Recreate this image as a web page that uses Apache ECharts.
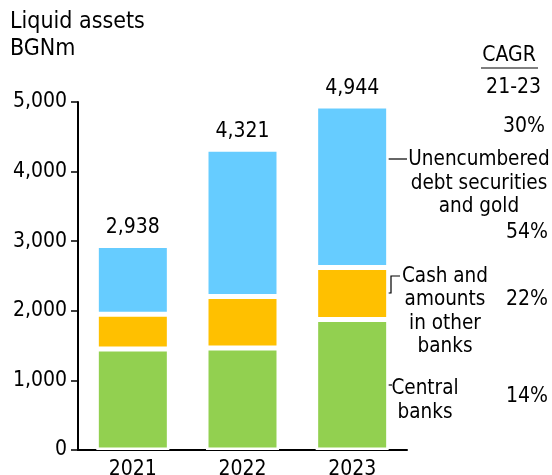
<!DOCTYPE html>
<html><head><meta charset="utf-8">
<script src="https://cdn.jsdelivr.net/npm/echarts@6/dist/echarts.min.js"></script>
<style>html,body{margin:0;padding:0;background:#fff}#c{width:552px;height:475px}</style>
</head><body><div id="c"></div>
<script>
var years = ['2021', '2022', '2023'];
var centralBanks = [1450, 1466, 1875];
var cashAmounts = [501, 739, 746];
var unencumbered = [987, 2116, 2323];
var seriesNames = ['Central banks', 'Cash and amounts in other banks', 'Unencumbered debt securities and gold'];
var cagrLabels = ['30%', '54%', '22%', '14%'];
var yTicks = [0, 1000, 2000, 3000, 4000, 5000];

var totals = years.map(function (_, i) { return centralBanks[i] + cashAmounts[i] + unencumbered[i]; });
var FONT = '"DejaVu Sans Condensed", "DejaVu Sans", sans-serif';
var FS = 21;
function fmt(v) { return v.toLocaleString('en-US'); }

var chart = echarts.init(document.getElementById('c'));
var barStyle = function (color) { return { color: color, borderColor: '#fff', borderWidth: 2.5 }; };
function txt(x, y, s, align, size, extra) {
  var st = { text: s, font: (size || FS) + 'px ' + FONT, fill: '#000', textAlign: align, textVerticalAlign: 'middle' };
  if (extra) { for (var k in extra) st[k] = extra[k]; }
  return { type: 'text', x: x, y: y, style: st };
}
chart.setOption({
  animation: false,
  textStyle: { fontFamily: FONT },
  title: { text: 'Liquid assets\nBGNm', left: 10, top: 9, padding: 0,
    textStyle: { fontFamily: FONT, fontSize: 23, fontWeight: 'normal', color: '#000', lineHeight: 27 } },
  grid: { left: 78, right: 145, top: 102, bottom: 25, containLabel: false, outerBoundsMode: 'none' },
  xAxis: { type: 'category', data: years,
    axisLine: { lineStyle: { color: '#000', width: 2 } },
    axisTick: { show: false },
    axisLabel: { color: '#000', fontSize: FS, margin: 9, fontFamily: FONT } },
  yAxis: { type: 'value', min: yTicks[0], max: yTicks[yTicks.length - 1], interval: 1000,
    splitLine: { show: false },
    axisLine: { show: true, lineStyle: { color: '#000', width: 2 } },
    axisTick: { show: true, inside: false, length: 7, lineStyle: { color: '#000', width: 1.5 } },
    axisLabel: { color: '#000', fontSize: FS, margin: 11, fontFamily: FONT, formatter: function (v) { return fmt(v); } } },
  series: [
    { name: seriesNames[0], type: 'bar', stack: 't', barWidth: 73, data: centralBanks, itemStyle: barStyle('#92D050') },
    { name: seriesNames[1], type: 'bar', stack: 't', data: cashAmounts, itemStyle: barStyle('#FFC000') },
    { name: seriesNames[2], type: 'bar', stack: 't', data: unencumbered, itemStyle: barStyle('#66CCFF'),
      label: { show: true, position: 'top', distance: 7, color: '#000', fontSize: FS, fontFamily: FONT,
        formatter: function (p) { return fmt(totals[p.dataIndex]); } } }
  ],
  graphic: [
    txt(509, 56, 'CAGR', 'center'),
    { type: 'line', shape: { x1: 481, y1: 68, x2: 538, y2: 68 }, style: { stroke: '#000', lineWidth: 1.2 } },
    txt(541, 88, '21-23', 'right'),
    txt(545, 127, cagrLabels[0], 'right'),
    txt(548, 233, cagrLabels[1], 'right'),
    txt(548, 300, cagrLabels[2], 'right'),
    txt(548, 397, cagrLabels[3], 'right'),
    txt(479, 183.5, 'Unencumbered\ndebt securities\nand gold', 'center', 20.5, { lineHeight: 23.5 }),
    txt(445, 311.5, 'Cash and\namounts\nin other\nbanks', 'center', 20.5, { lineHeight: 23.5 }),
    txt(425, 400.5, 'Central\nbanks', 'center', 20.5, { lineHeight: 23.5 }),
    { type: 'polyline', shape: { points: [[384, 159], [407, 159]] }, style: { stroke: '#000', lineWidth: 1.2, fill: null } },
    { type: 'polyline', shape: { points: [[384, 293], [391, 293], [391, 276], [400, 276]] }, style: { stroke: '#000', lineWidth: 1.2, fill: null } },
    { type: 'polyline', shape: { points: [[384, 385], [392, 385]] }, style: { stroke: '#000', lineWidth: 1.2, fill: null } }
  ]
});
</script></body></html>
